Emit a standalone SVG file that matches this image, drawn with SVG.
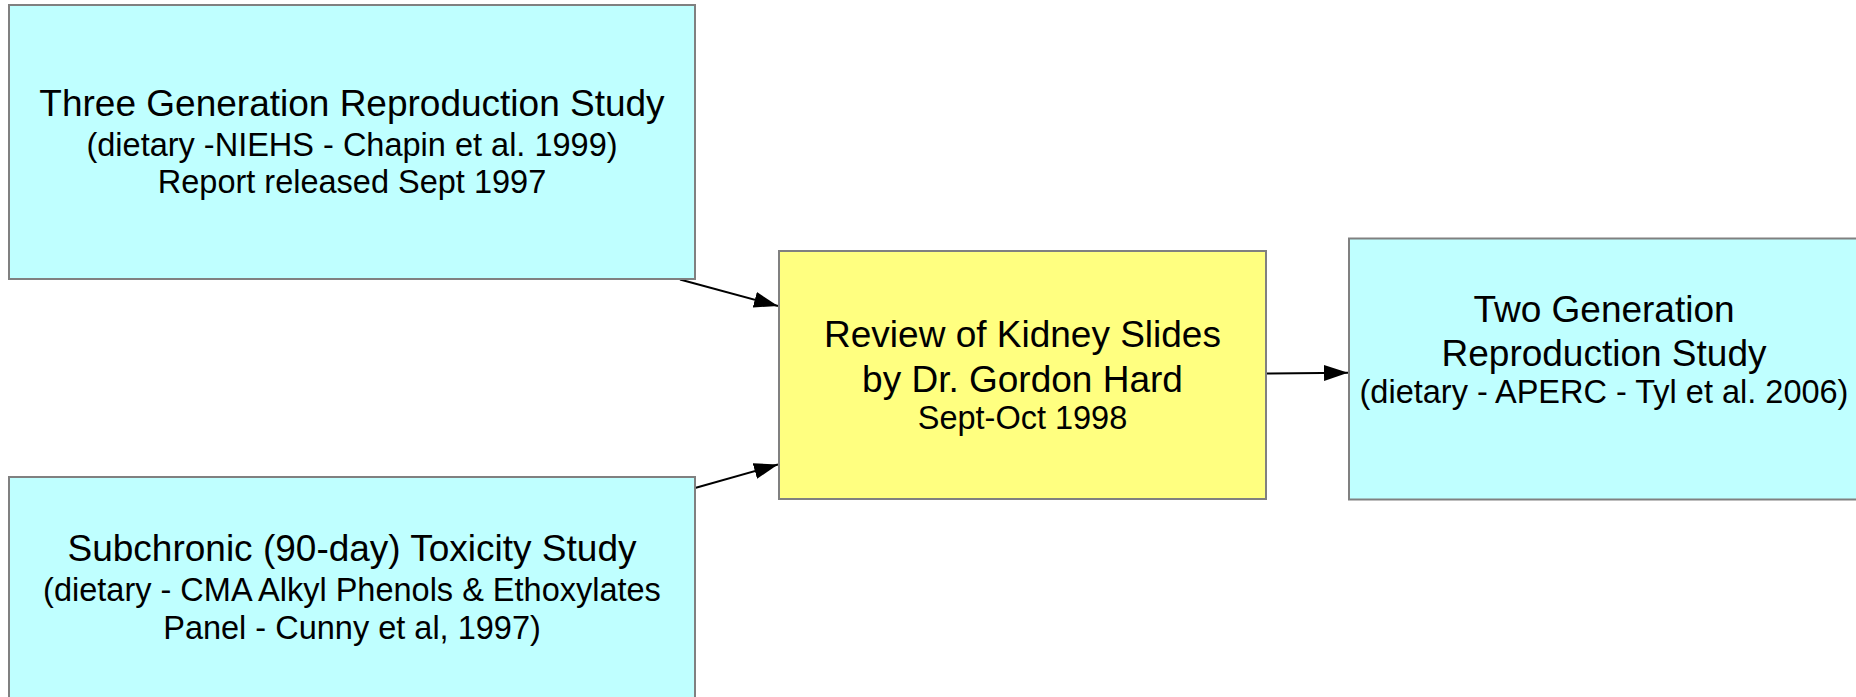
<svg xmlns="http://www.w3.org/2000/svg" width="1856" height="697" viewBox="0 0 1856 697">
  <style>
    .box { stroke: #808080; stroke-width: 2; }
    .cyan { fill: #BFFFFF; }
    .yellow { fill: #FFFF80; }
    text { font-family: "Liberation Sans", Arial, sans-serif; fill: #000; text-anchor: middle; }
    .t1 { font-size: 37px; }
    .t2 { font-size: 32.5px; }
    .edge { stroke: #000; stroke-width: 2; fill: none; marker-end: url(#arrow); }
  </style>
  <defs>
    <marker id="arrow" markerUnits="userSpaceOnUse" markerWidth="24" markerHeight="16" refX="24" refY="8" orient="auto">
      <path d="M0,0 L24,8 L0,16 z" fill="#000"/>
    </marker>
  </defs>
  <rect width="1856" height="697" fill="#fff"/>
  <g id="connectors">
    <line class="edge" x1="680" y1="279.5" x2="778" y2="306"/>
    <line class="edge" x1="695" y1="488" x2="778" y2="464.5"/>
    <line class="edge" x1="1266" y1="373.5" x2="1348" y2="372.8"/>
  </g>
  <g id="node-three-generation">
    <rect class="box cyan" x="9" y="5" width="686" height="274"/>
    <text class="t1" x="352" y="116">Three Generation Reproduction Study</text>
    <text class="t2" x="352" y="156">(dietary -NIEHS - Chapin et al. 1999)</text>
    <text class="t2" x="352" y="193">Report released Sept 1997</text>
  </g>
  <g id="node-subchronic">
    <rect class="box cyan" x="9" y="477" width="686" height="260"/>
    <text class="t1" x="352" y="561">Subchronic (90-day) Toxicity Study</text>
    <text class="t2" x="352" y="601">(dietary - CMA Alkyl Phenols &amp; Ethoxylates</text>
    <text class="t2" x="352" y="639">Panel - Cunny et al, 1997)</text>
  </g>
  <g id="node-review">
    <rect class="box yellow" x="779" y="251" width="487" height="248"/>
    <text class="t1" x="1022.5" y="347">Review of Kidney Slides</text>
    <text class="t1" x="1022.5" y="391.5">by Dr. Gordon Hard</text>
    <text class="t2" x="1022.5" y="428.5">Sept-Oct 1998</text>
  </g>
  <g id="node-two-generation">
    <rect class="box cyan" x="1349" y="238.5" width="510" height="261"/>
    <text class="t1" x="1604" y="321.5">Two Generation</text>
    <text class="t1" x="1604" y="365.5">Reproduction Study</text>
    <text class="t2" x="1604" y="402.5">(dietary - APERC - Tyl et al. 2006)</text>
  </g>
</svg>
